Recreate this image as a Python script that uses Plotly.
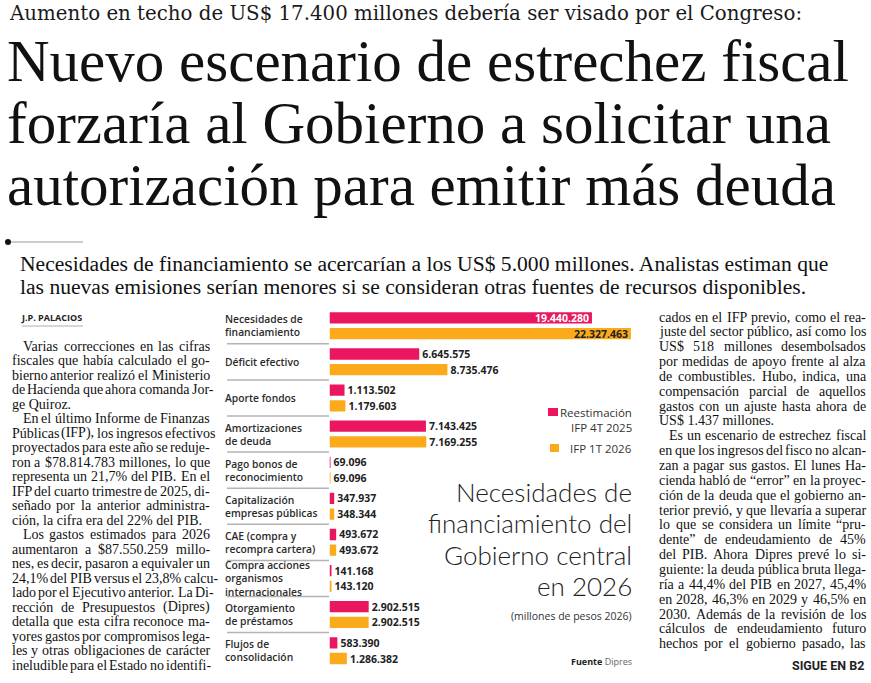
import plotly.graph_objects as go

W, H = 871, 683

# ---------------- data ----------------
categories = [
    "Necesidades de financiamiento", "Déficit efectivo", "Aporte fondos",
    "Amortizaciones de deuda", "Pago bonos de reconocimiento",
    "Capitalización empresas públicas", "CAE (compra y recompra cartera)",
    "Compra acciones organismos internacionales", "Otorgamiento de préstamos",
    "Flujos de consolidación",
]
category_labels = [
    "Necesidades de<br>financiamiento", "Déficit efectivo", "Aporte fondos",
    "Amortizaciones<br>de deuda", "Pago bonos de<br>reconocimiento",
    "Capitalización<br>empresas públicas", "CAE (compra y<br>recompra cartera)",
    "Compra acciones<br>organismos<br>internacionales", "Otorgamiento<br>de préstamos",
    "Flujos de<br>consolidación",
]
reestimacion_ifp_4t_2025 = [19440280, 6645575, 1113502, 7143425, 69096, 347937, 493672, 141168, 2902515, 583390]
ifp_1t_2026 = [22327463, 8735476, 1179603, 7169255, 69096, 348344, 493672, 143120, 2902515, 1286382]
series_names = ["Reestimación IFP 4T 2025", "IFP 1T 2026"]

PINK = "#EA1660"
ORANGE = "#FBAA1C"
DARK = "#222222"

def px(x):
    return x / W

def py(y):
    return 1 - y / H

fig = go.Figure()
for vals, name, col in [(reestimacion_ifp_4t_2025, series_names[0], PINK),
                        (ifp_1t_2026, series_names[1], ORANGE)]:
    inside_col = "white" if col == PINK else DARK
    fig.add_trace(go.Bar(
        y=categories, x=vals, name=name, orientation="h",
        marker=dict(color=col, line=dict(width=0)),
        texttemplate="%{x:,}",
        textposition=["inside"] + ["outside"] * (len(vals) - 1),
        insidetextanchor="end",
        insidetextfont=dict(family="Open Sans", size=10.5, color=inside_col, weight=700),
        outsidetextfont=dict(family="Open Sans", size=10.5, color=DARK, weight=700),
        constraintext="none", cliponaxis=False, showlegend=False,
        hoverinfo="skip",
    ))

annotations = []
shapes = []

def txt(x, y, s, size, family, color="#111", xanchor="left", weight=400, yref="paper", yshift=0):
    annotations.append(dict(
        x=px(x), xref="paper", y=py(y) if yref == "paper" else y, yref=yref,
        text=s, showarrow=False, xanchor=xanchor, yanchor="middle", align=xanchor,
        font=dict(family=family, size=size, color=color, weight=weight),
        yshift=yshift, borderpad=0, borderwidth=0,
    ))

# category labels (positioned on the category axis)
for cat, lab in zip(categories, category_labels):
    txt(225, cat, lab, 10.3, "Open Sans", color="#2b2b2b", weight=600, yref="y")

# separators between rows
for i in range(1, len(categories)):
    shapes.append(dict(type="line", xref="paper", yref="y", x0=px(227), x1=px(329),
                       y0=i - 0.5, y1=i - 0.5, line=dict(color="#b3b3b3", width=1.5)))

# legend
shapes.append(dict(type="rect", xref="paper", yref="paper", x0=px(548), x1=px(558),
                   y0=py(416), y1=py(408), fillcolor=PINK, line=dict(width=0)))
shapes.append(dict(type="rect", xref="paper", yref="paper", x0=px(550), x1=px(559),
                   y0=py(452), y1=py(444), fillcolor=ORANGE, line=dict(width=0)))
txt(632, 412, "Reestimación", 11.5, "Open Sans", "#333", "right")
txt(632, 427, "IFP 4T 2025", 11.5, "Open Sans", "#333", "right")
txt(632, 448, "IFP 1T 2026", 11.5, "Open Sans", "#333", "right")

# chart title
for yy, line in zip([492, 523, 555, 586],
                    ["Necesidades de", "financiamiento del", "Gobierno central", "en 2026"]):
    txt(632, yy, line, 26, "Lato", "#222", "right", weight=300)
txt(632, 616, "(millones de pesos 2026)", 10.5, "Open Sans", "#333", "right")
txt(632, 661, "<b>Fuente</b> <span style='color:#666'>Dipres</span>", 9, "Open Sans", "#222", "right")

# newspaper header
SERIF = "Liberation Serif"
txt(9, 14, "Aumento en techo de US$ 17.400 millones debería ser visado por el Congreso:", 19.8,
    "DejaVu Serif", "#1a1a1a")
for yy, line in zip([61.5, 123, 185], ["Nuevo escenario de estrechez fiscal",
                                       "forzaría al Gobierno a solicitar una",
                                       "autorización para emitir más deuda"]):
    txt(7, yy, line, 59, SERIF)
shapes.append(dict(type="line", xref="paper", yref="paper", x0=px(10), x1=px(83),
                   y0=py(242), y1=py(242), line=dict(color="#bbbbbb", width=1.5)))
shapes.append(dict(type="circle", xref="paper", yref="paper", x0=px(5), x1=px(11),
                   y0=py(245), y1=py(239), fillcolor="#111", line=dict(width=0)))
txt(20, 264, "Necesidades de financiamiento se acercarían a los US$ 5.000 millones. Analistas estiman que", 21.6, SERIF)
txt(20, 287, "las nuevas emisiones serían menores si se consideran otras fuentes de recursos disponibles.", 21.6, SERIF)

# byline
txt(21, 318, "J.P. PALACIOS", 9, "Open Sans", "#222", weight=700)
shapes.append(dict(type="line", xref="paper", yref="paper", x0=px(22), x1=px(83),
                   y0=py(326), y1=py(326), line=dict(color="#999", width=0.8)))

# (indent, justify, text)
left_col = [
    (1, 1, "Varias correcciones en las cifras"), (0, 1, "fiscales que había calculado el go-"),
    (0, 1, "bierno anterior realizó el Ministerio"), (0, 1, "de Hacienda que ahora comanda Jor-"),
    (0, 0, "ge Quiroz."), (1, 1, "En el último Informe de Finanzas"),
    (0, 1, "Públicas (IFP), los ingresos efectivos"), (0, 1, "proyectados para este año se reduje-"),
    (0, 1, "ron a $78.814.783 millones, lo que"), (0, 1, "representa un 21,7% del PIB. En el"),
    (0, 1, "IFP del cuarto trimestre de 2025, di-"), (0, 1, "señado por la anterior administra-"),
    (0, 0, "ción, la cifra era del 22% del PIB."), (1, 1, "Los gastos estimados para 2026"),
    (0, 1, "aumentaron a $87.550.259 millo-"), (0, 1, "nes, es decir, pasaron a equivaler un"),
    (0, 1, "24,1% del PIB versus el 23,8% calcu-"), (0, 1, "lado por el Ejecutivo anterior. La Di-"),
    (0, 1, "rección de Presupuestos (Dipres)"), (0, 1, "detalla que esta cifra reconoce ma-"),
    (0, 1, "yores gastos por compromisos lega-"), (0, 1, "les y otras obligaciones de carácter"),
    (0, 1, "ineludible para el Estado no identifi-"),
]
right_col = [
    (0, 1, "cados en el IFP previo, como el rea-"), (0, 1, "juste del sector público, así como los"),
    (0, 1, "US$ 518 millones desembolsados"), (0, 1, "por medidas de apoyo frente al alza"),
    (0, 1, "de combustibles. Hubo, indica, una"), (0, 1, "compensación parcial de aquellos"),
    (0, 1, "gastos con un ajuste hasta ahora de"), (0, 0, "US$ 1.437 millones."),
    (1, 1, "Es un escenario de estrechez fiscal"), (0, 1, "en que los ingresos del fisco no alcan-"),
    (0, 1, "zan a pagar sus gastos. El lunes Ha-"), (0, 1, "cienda habló de “error” en la proyec-"),
    (0, 1, "ción de la deuda que el gobierno an-"), (0, 1, "terior previó, y que llevaría a superar"),
    (0, 1, "lo que se considera un límite “pru-"), (0, 1, "dente” de endeudamiento de 45%"),
    (0, 1, "del PIB. Ahora Dipres prevé lo si-"), (0, 1, "guiente: la deuda pública bruta llega-"),
    (0, 1, "ría a 44,4% del PIB en 2027, 45,4%"), (0, 1, "en 2028, 46,3% en 2029 y 46,5% en"),
    (0, 1, "2030. Además de la revisión de los"), (0, 1, "cálculos de endeudamiento futuro"),
    (0, 1, "hechos por el gobierno pasado, las"),
]

# Times / Liberation Serif advance widths (per 1000 em) for justification
_TW = {" ": 250, "!": 333, "$": 500, "%": 833, "(": 333, ")": 333, ",": 250, "-": 333,
       ".": 250, ":": 278, ";": 278, "“": 444, "”": 444, "?": 444}
for ch in "0123456789":
    _TW[ch] = 500
_up = dict(A=722, B=667, C=667, D=722, E=611, F=556, G=722, H=722, I=333, J=389, K=722,
           L=611, M=889, N=722, O=722, P=556, Q=722, R=667, S=556, T=611, U=722, V=722,
           W=944, X=722, Y=722, Z=611)
_lo = dict(a=444, b=500, c=444, d=500, e=444, f=333, g=500, h=500, i=278, j=278, k=500,
           l=278, m=778, n=500, o=500, p=500, q=500, r=333, s=389, t=278, u=500, v=500,
           w=722, x=500, y=500, z=444)
_TW.update(_up)
_TW.update(_lo)
_TW.update({"á": 444, "é": 444, "í": 278, "ó": 500, "ú": 500, "ñ": 500, "ü": 500,
            "Á": 722, "É": 611, "Í": 333, "Ó": 722, "Ú": 722})

def wwidth(word, size):
    return sum(_TW.get(c, 500) for c in word) / 1000 * size

BODY = 14

def column(lines, x_left, x_right, y0, pitch, indent):
    for i, (ind, just, line) in enumerate(lines):
        yy = y0 + pitch * i
        xl = x_left + indent * ind
        words = line.split(" ")
        if not just or len(words) == 1:
            txt(xl, yy, line, BODY, SERIF)
            continue
        widths = [wwidth(w, BODY) for w in words]
        gap = (x_right - xl - sum(widths)) / (len(words) - 1)
        gap = max(gap, 0.18 * BODY)
        x = xl
        for w, wd in zip(words, widths):
            txt(x, yy, w, BODY, SERIF)
            x += wd + gap

column(left_col, 11.5, 210, 346, 14.5, 11)
column(right_col, 659, 866, 317, 14.85, 10)

txt(864, 665, "SIGUE EN B2", 12.5, "Liberation Sans Narrow, Roboto", "#222", "right", weight=700)

fig.update_layout(
    width=W, height=H, margin=dict(l=0, r=0, t=0, b=0),
    paper_bgcolor="white", plot_bgcolor="white",
    barmode="group", bargap=0.13, bargroupgap=0.28,
    separators=",.",
    uniformtext=dict(minsize=10, mode="show"),
    xaxis=dict(domain=[px(329.5), px(329.5 + 337.5)], range=[0, 25e6], visible=False,
               fixedrange=True),
    yaxis=dict(domain=[py(668.7), py(307.7)], type="category", categoryorder="array",
               categoryarray=categories, autorange="reversed", visible=False,
               fixedrange=True),
    annotations=annotations, shapes=shapes, showlegend=False,
    font=dict(family="Open Sans"),
)

fig.write_html("out.html", config={"displayModeBar": False},
               post_script="document.body.style.margin='0px';")
